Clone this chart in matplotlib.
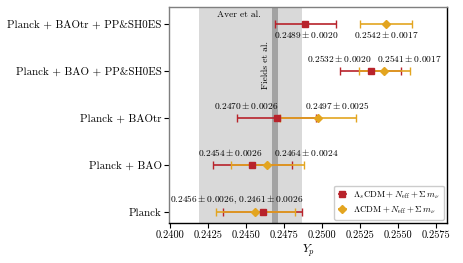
import matplotlib
matplotlib.use("Agg")
import matplotlib.pyplot as plt
import numpy as np

plt.rcParams["font.family"] = "serif"
plt.rcParams["font.serif"] = ["cmr10"]
plt.rcParams["mathtext.fontset"] = "cm"
plt.rcParams["axes.unicode_minus"] = False
plt.rcParams["axes.formatter.use_mathtext"] = True

# data combinations, bottom to top
datasets = ["Planck", "Planck + BAO", "Planck + BAOtr",
            "Planck + BAO + PP&SH0ES", "Planck + BAOtr + PP&SH0ES"]

# Lambda_s CDM + Neff + sum m_nu
ls_mean = [0.2461, 0.2454, 0.2470, 0.2532, 0.2489]
ls_err = [0.0026, 0.0026, 0.0026, 0.0020, 0.0020]

# Lambda CDM + Neff + sum m_nu
lcdm_mean = [0.2456, 0.2464, 0.2497, 0.2541, 0.2542]
lcdm_err = [0.0026, 0.0024, 0.0025, 0.0017, 0.0017]

# reference measurements
aver_mean, aver_err = 0.2453, 0.0034
fields_mean, fields_err = 0.2469, 0.0002

red = "#b8232b"
gold = "#e3a520"

fig = plt.figure(figsize=(4.63, 2.63), dpi=100)
ax = fig.add_axes([0.366, 0.153, 0.599, 0.819])

y = np.arange(len(datasets))

ax.axvspan(aver_mean - aver_err, aver_mean + aver_err, color="#d9d9d9", zorder=0, lw=0)
ax.axvspan(fields_mean - fields_err, fields_mean + fields_err, color="#a3a3a3", zorder=0.5, lw=0)

# error bars: red first, gold line on top, markers above both
ax.errorbar(ls_mean, y, xerr=ls_err, fmt="none", ecolor=red, elinewidth=1.2,
            capsize=3, capthick=1.0, zorder=2)
ax.errorbar(lcdm_mean, y, xerr=lcdm_err, fmt="none", ecolor=gold, elinewidth=1.2,
            capsize=3, capthick=1.0, zorder=2.1)
ax.plot(lcdm_mean, y, "D", color=gold, ms=3.8, zorder=3)
ax.plot(ls_mean, y, "s", color=red, ms=4.2, zorder=3.1)

# legend handles
h1 = ax.errorbar([], [], xerr=[], fmt="s", color=red, ms=4.5, elinewidth=1.2, capsize=3)
h2 = ax.errorbar([], [], xerr=[], fmt="D", color=gold, ms=4, elinewidth=1.2, capsize=3)
ax.legend([h1, h2],
          [r"$\Lambda_s{\rm CDM} + N_{\rm eff} + \Sigma\, m_\nu$",
           r"$\Lambda{\rm CDM} + N_{\rm eff} + \Sigma\, m_\nu$"],
          loc="lower right", fontsize=6.4, handlelength=0.9, handletextpad=0.8,
          borderaxespad=0.35, framealpha=1, edgecolor="#cccccc", fancybox=True,
          borderpad=0.45, labelspacing=0.35)

def lab(m, e):
    return r"$%.4f \pm %.4f$" % (m, e)

# value labels
fs = 6.8
ax.text(0.24434, y[0] + 0.27,
        lab(lcdm_mean[0], lcdm_err[0])[:-1] + r",\, " + lab(ls_mean[0], ls_err[0])[1:],
        ha="center", va="center", fontsize=fs)
red_x = [None, 0.24395, 0.24499, 0.25112, 0.24899]
gold_x = [None, 0.24899, 0.25098, 0.25577, 0.25422]
for i in range(1, len(datasets)):
    dy = -0.22 if i == len(datasets) - 1 else 0.27
    ax.text(red_x[i], y[i] + dy, lab(ls_mean[i], ls_err[i]), ha="center", va="center", fontsize=fs)
    ax.text(gold_x[i], y[i] + dy, lab(lcdm_mean[i], lcdm_err[i]), ha="center", va="center", fontsize=fs)

ax.text(0.24449, 4.20, "Aver et al.", ha="center", va="center", fontsize=fs)
ax.text(0.24626, 3.13, "Fields et al.", ha="center", va="center", fontsize=fs, rotation=90)

ax.set_yticks(y)
ax.set_yticklabels(datasets, fontsize=7.9)
ax.set_xticks(np.arange(0.2400, 0.2576, 0.0025))
ax.set_xticklabels(["%.4f" % v for v in np.arange(0.2400, 0.2576, 0.0025)], fontsize=7.5)
ax.set_xlim(0.23995, 0.2582)
ax.set_ylim(-0.23, 4.36)
ax.set_xlabel(r"$Y_p$", fontsize=8.5, labelpad=2)
ax.tick_params(length=3.5, width=0.8, pad=2)

ax.spines["left"].set_color("#7f7f7f")
ax.spines["top"].set_color("#7f7f7f")
for s in ax.spines.values():
    s.set_linewidth(1.0)

fig.savefig("out.png", dpi=100)
